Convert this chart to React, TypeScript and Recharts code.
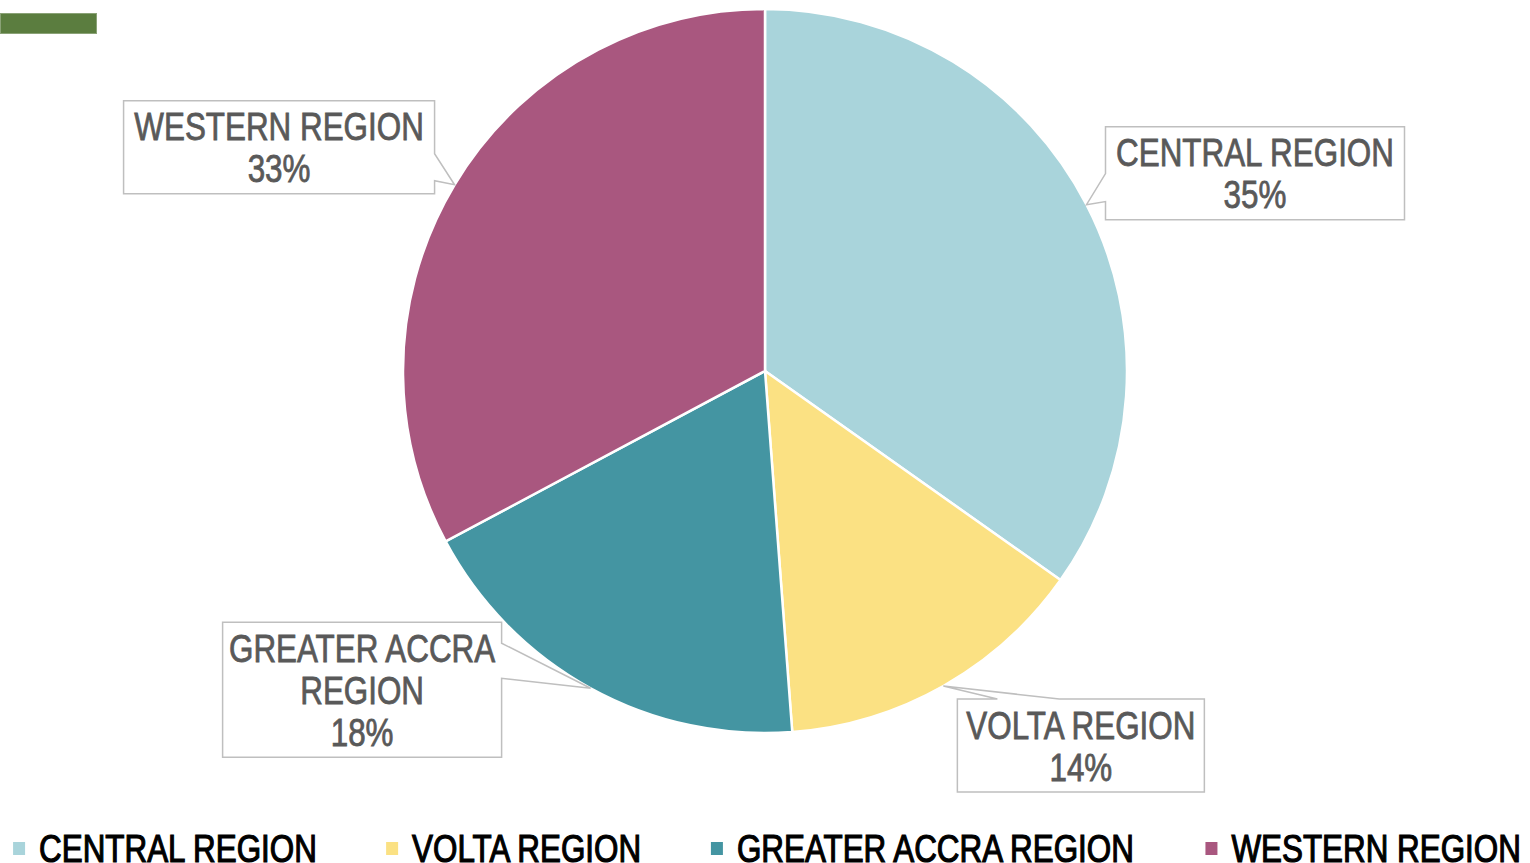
import React from 'react';
import { PieChart, Pie, Cell, Legend } from 'recharts';

const categories = ['CENTRAL REGION', 'VOLTA REGION', 'GREATER ACCRA REGION', 'WESTERN REGION'];
const labelLines = [['CENTRAL REGION'], ['VOLTA REGION'], ['GREATER ACCRA', 'REGION'], ['WESTERN REGION']];
const values = [34.8, 14.0, 18.4, 32.8];
const colors = ['#a9d4db', '#fbe183', '#4495a2', '#a9577f'];

const data = categories.map((name, i) => ({ name, value: values[i] }));

const FONT = '"Liberation Sans", Arial, sans-serif';
const FONT_SIZE = 38;
const SX = 0.826; // horizontal condensing to imitate a narrow face

// callout layout: offset of box centre from tip, box size, side of wedge, wedge base along that side
const calloutLayout = [
  { dx: 168.5, dy: -31.5, w: 299, h: 93, side: 'left', b0: 47, b1: 75 },
  { dx: 137.5, dy: 59.5, w: 247, h: 93, side: 'top', b0: 40, b1: 102 },
  { dx: -228.5, dy: 1.5, w: 279, h: 135, side: 'right', b0: 21, b1: 56 },
  { dx: -175.5, dy: -37.5, w: 311, h: 93, side: 'right', b0: 53, b1: 80 },
];

const RADIAN = Math.PI / 180;

const measure = (t: string) => {
  try {
    const c = document.createElement('canvas').getContext('2d');
    if (c) {
      c.font = `${FONT_SIZE}px "Liberation Sans", Arial, sans-serif`;
      return c.measureText(t).width * SX;
    }
  } catch (e) {
    /* ignore */
  }
  return t.length * FONT_SIZE * 0.6 * SX;
};

const renderCallout = (props: any) => {
  const { cx, cy, midAngle, outerRadius, percent, index } = props;
  const L = calloutLayout[index];
  const tx = cx + outerRadius * Math.cos(-midAngle * RADIAN);
  const ty = cy + outerRadius * Math.sin(-midAngle * RADIAN);
  const bx = tx + L.dx - L.w / 2;
  const by = ty + L.dy - L.h / 2;
  const r = bx + L.w;
  const b = by + L.h;
  let d = '';
  if (L.side === 'left') {
    d = `M${bx},${by} L${r},${by} L${r},${b} L${bx},${b} L${bx},${by + L.b1} L${tx},${ty} L${bx},${by + L.b0} Z`;
  } else if (L.side === 'right') {
    d = `M${bx},${by} L${r},${by} L${r},${by + L.b0} L${tx},${ty} L${r},${by + L.b1} L${r},${b} L${bx},${b} Z`;
  } else {
    d = `M${bx},${by} L${bx + L.b0},${by} L${tx},${ty} L${bx + L.b1},${by} L${r},${by} L${r},${b} L${bx},${b} Z`;
  }
  const lines = [...labelLines[index], `${Math.round(percent * 100)}%`];
  const lh = 42;
  const mx = bx + L.w / 2;
  const my = by + L.h / 2;
  return (
    <g key={`callout-${index}`}>
      <path d={d} fill="#ffffff" stroke="#bfbfbf" strokeWidth={1.5} />
      {lines.map((t, k) => (
        <text
          key={k}
          x={0}
          y={0}
          transform={`translate(${mx},${my + (k - (lines.length - 1) / 2) * lh + 14}) scale(${SX},1)`}
          textAnchor="middle"
          fill="#595959"
          stroke="#595959"
          strokeWidth={0.8}
          fontSize={FONT_SIZE}
          fontFamily={FONT}
        >
          {t}
        </text>
      ))}
    </g>
  );
};

const renderLegend = () => {
  const sq = 12;
  const iconGap = 14;
  const itemGap = 68;
  const widths = categories.map((c) => measure(c));
  const total = widths.reduce((s, w) => s + sq + iconGap + w, 0) + itemGap * (categories.length - 1);
  let x = (1530 - total) / 2 + 2;
  const items = categories.map((c, i) => {
    const x0 = x;
    x += sq + iconGap + widths[i] + itemGap;
    return (
      <g key={c}>
        <rect x={x0} y={16} width={sq} height={13} fill={colors[i]} />
        <text
          x={0}
          y={0}
          transform={`translate(${x0 + sq + iconGap},36) scale(${SX},1)`}
          fill="#000"
          stroke="#000"
          strokeWidth={1.2}
          fontSize={FONT_SIZE}
          fontFamily={FONT}
        >
          {c}
        </text>
      </g>
    );
  });
  return (
    <svg width={1530} height={40} style={{ display: 'block' }}>
      {items}
    </svg>
  );
};

export default function App() {
  return (
    <div style={{ position: 'relative', width: 1530, height: 863, overflow: 'hidden', background: '#fff' }}>
      <style>{`body{margin:0;}`}</style>
      <div style={{ position: 'absolute', left: 0, top: 13, width: 97, height: 21, background: '#5b7d3f', boxShadow: 'inset 0 0 0 1px #8aa276' }} />
      <PieChart width={1530} height={863} margin={{ top: 0, right: 0, bottom: 0, left: 0 }}>
        <Pie
          data={data}
          dataKey="value"
          nameKey="name"
          cx={765}
          cy={371}
          outerRadius={362}
          startAngle={90}
          endAngle={-270}
          stroke="#ffffff"
          strokeWidth={2.5}
          label={renderCallout}
          labelLine={false}
          isAnimationActive={false}
        >
          {data.map((d, i) => (
            <Cell key={d.name} fill={colors[i]} />
          ))}
        </Pie>
        <Legend
          content={renderLegend}
          wrapperStyle={{ position: 'absolute', left: 0, top: 826, width: 1530, height: 40 }}
        />
      </PieChart>
    </div>
  );
}
